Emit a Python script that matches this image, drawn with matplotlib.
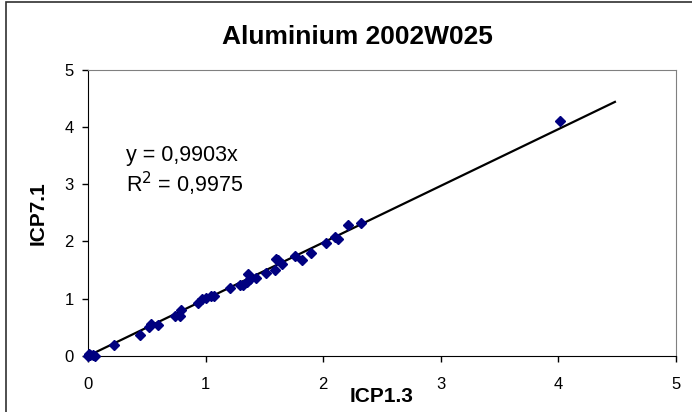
import matplotlib.pyplot as plt
from matplotlib.patches import Rectangle

plt.rcParams['font.family'] = ['Liberation Sans', 'DejaVu Sans']

# ICP1.3 vs ICP7.1 results, aluminium
icp13 = [0.00, 0.01, 0.02, 0.04, 0.06, 0.22, 0.44, 0.52, 0.54, 0.60,
         0.74, 0.78, 0.79, 0.94, 0.97, 1.00, 1.05, 1.07, 1.21, 1.29,
         1.32, 1.35, 1.36, 1.38, 1.43, 1.51, 1.59, 1.60, 1.62, 1.65,
         1.76, 1.82, 1.90, 2.02, 2.10, 2.13, 2.21, 2.32, 4.01]
icp71 = [0.00, 0.04, 0.01, 0.02, 0.00, 0.19, 0.37, 0.51, 0.55, 0.54,
         0.69, 0.69, 0.81, 0.93, 0.99, 1.02, 1.04, 1.04, 1.18, 1.24,
         1.24, 1.30, 1.43, 1.35, 1.37, 1.45, 1.50, 1.69, 1.68, 1.61,
         1.75, 1.68, 1.80, 1.97, 2.07, 2.04, 2.29, 2.33, 4.10]

slope = 0.9903
r2 = 0.9975
trend_x = [0.0, 4.48]

fig = plt.figure(figsize=(6.92, 4.12), dpi=100)
ax = fig.add_axes([0.127, 0.136, 0.850, 0.695])

ax.plot(icp13, icp71, linestyle='none', marker='D', markersize=5.5,
        color='#000080', zorder=3, clip_on=False)
ax.plot(trend_x, [slope * v for v in trend_x], color='black', lw=1.6,
        zorder=2)

ax.set_xlim(0, 5)
ax.set_ylim(0, 5)
ax.set_xticks(range(6))
ax.set_yticks(range(6))
ax.tick_params(direction='out', length=4, width=1, labelsize=12,
               colors='black')
ax.tick_params(axis='x', pad=11)
ax.tick_params(axis='y', pad=6)

for side in ('top', 'right'):
    ax.spines[side].set_color('#808080')
for side in ('left', 'bottom'):
    ax.spines[side].set_color('black')

fig.text(357 / 692, 1 - 37 / 412, 'Aluminium 2002W025',
         fontsize=19, fontweight='bold', ha='center', va='center')
ax.set_xlabel('ICP1.3', fontsize=15, fontweight='bold', va='center')
ax.xaxis.set_label_coords(0.5, -0.143)
ax.set_ylabel('ICP7.1', fontsize=15, fontweight='bold', va='center')
ax.yaxis.set_label_coords(-0.085, 0.5)

ax.text(0.32, 3.5, 'y = 0,9903x', fontsize=15.5, va='center')
ax.text(0.32, 3.0, 'R$^2$ = 0,9975', fontsize=15.5, va='center')

# chart area frame
fig.patches.append(Rectangle((6 / 692, -0.05), 1.2, 1.05 - 1.5 / 412,
                             transform=fig.transFigure, fill=False,
                             edgecolor='#303030', lw=1.2))

fig.savefig('out.png', dpi=100)
